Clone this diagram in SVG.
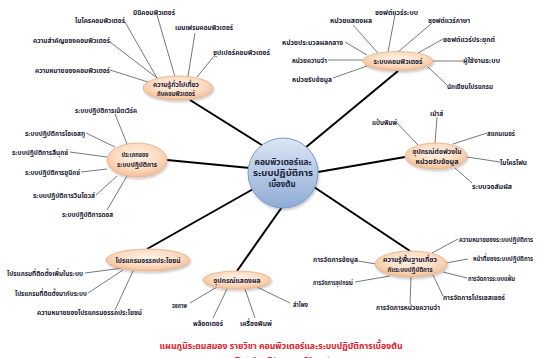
<svg xmlns="http://www.w3.org/2000/svg" width="537" height="358" viewBox="0 0 537 358">
<style>
text{font-family:"Noto Sans Thai","Noto Sans","DejaVu Sans",sans-serif;font-weight:bold;fill:#1b1b33;font-size:7.5px}
.nt{text-anchor:middle;font-size:7px}
.ct{text-anchor:middle;font-size:8.5px;fill:#1a1f3a}
.thin{stroke:#555;stroke-width:0.8;fill:none}
.thick{stroke:#000;stroke-width:2;fill:none}
.node{fill:url(#peach);stroke:#e2b08c;stroke-width:0.8;filter:url(#sh)}
.title{fill:#e3202a;font-size:9.5px;text-anchor:middle}
</style>
<defs>
<radialGradient id="peach" cx="50%" cy="40%" r="60%">
<stop offset="0" stop-color="#fff3e8"/>
<stop offset="0.6" stop-color="#fbdcc2"/>
<stop offset="1" stop-color="#f3bd94"/>
</radialGradient>
<linearGradient id="blue" x1="0" y1="0" x2="0" y2="1">
<stop offset="0" stop-color="#dbe6f4"/>
<stop offset="1" stop-color="#8fabd4"/>
</linearGradient>
<filter id="sh" x="-20%" y="-30%" width="140%" height="170%">
<feDropShadow dx="1" dy="2" stdDeviation="1.2" flood-color="#000" flood-opacity="0.2"/>
</filter>
</defs>
<rect width="537" height="358" fill="#fff"/>
<g id="connectors">
<line class="thick" x1="265" y1="147" x2="190" y2="100"/>
<line class="thick" x1="305" y1="148" x2="398" y2="71"/>
<line class="thick" x1="250" y1="168" x2="167" y2="160"/>
<line class="thick" x1="318" y1="172" x2="405" y2="157"/>
<line class="thick" x1="255" y1="188" x2="147" y2="249"/>
<line class="thick" x1="282" y1="207" x2="237" y2="271"/>
<line class="thick" x1="308" y1="183" x2="410" y2="251"/>
<line class="thin" x1="157" y1="15" x2="175" y2="77"/>
<line class="thin" x1="125" y1="22" x2="157" y2="78"/>
<line class="thin" x1="110" y1="42" x2="157" y2="78"/>
<line class="thin" x1="110" y1="70" x2="148" y2="82"/>
<line class="thin" x1="195" y1="33" x2="188" y2="76"/>
<line class="thin" x1="215" y1="55" x2="197" y2="77"/>
<line class="thin" x1="353" y1="25" x2="378" y2="53"/>
<line class="thin" x1="345" y1="42" x2="367" y2="55"/>
<line class="thin" x1="328" y1="60" x2="363" y2="60"/>
<line class="thin" x1="333" y1="78" x2="367" y2="66"/>
<line class="thin" x1="395" y1="15" x2="388" y2="52"/>
<line class="thin" x1="432" y1="23" x2="398" y2="52"/>
<line class="thin" x1="443" y1="39" x2="418" y2="53"/>
<line class="thin" x1="433" y1="61" x2="463" y2="61"/>
<line class="thin" x1="428" y1="67" x2="447" y2="85"/>
<line class="thin" x1="115" y1="114" x2="127" y2="144"/>
<line class="thin" x1="86" y1="133" x2="115" y2="147"/>
<line class="thin" x1="70" y1="152" x2="107" y2="157"/>
<line class="thin" x1="81" y1="172" x2="107" y2="169"/>
<line class="thin" x1="96" y1="195" x2="117" y2="176"/>
<line class="thin" x1="107" y1="210" x2="127" y2="176"/>
<line class="thin" x1="397" y1="123" x2="418" y2="145"/>
<line class="thin" x1="437" y1="117" x2="435" y2="143"/>
<line class="thin" x1="487" y1="133" x2="453" y2="144"/>
<line class="thin" x1="500" y1="162" x2="467" y2="157"/>
<line class="thin" x1="472" y1="183" x2="455" y2="168"/>
<line class="thin" x1="85" y1="273" x2="123" y2="268"/>
<line class="thin" x1="88" y1="293" x2="123" y2="270"/>
<line class="thin" x1="115" y1="310" x2="133" y2="271"/>
<line class="thin" x1="190" y1="303" x2="217" y2="287"/>
<line class="thin" x1="227" y1="289" x2="213" y2="318"/>
<line class="thin" x1="245" y1="289" x2="255" y2="318"/>
<line class="thin" x1="290" y1="303" x2="257" y2="287"/>
<line class="thin" x1="458" y1="239" x2="432" y2="253"/>
<line class="thin" x1="468" y1="259" x2="446" y2="263"/>
<line class="thin" x1="467" y1="278" x2="443" y2="272"/>
<line class="thin" x1="443" y1="296" x2="433" y2="275"/>
<line class="thin" x1="410" y1="304" x2="411" y2="277"/>
<line class="thin" x1="358" y1="261" x2="376" y2="264"/>
<line class="thin" x1="355" y1="282" x2="390" y2="276"/>
</g>
<g id="center">
<circle cx="283" cy="173" r="35" fill="url(#blue)" stroke="#7b98c6" stroke-width="1" filter="url(#sh)"/>
<text class="ct" x="283" y="165" textLength="57" lengthAdjust="spacingAndGlyphs">คอมพิวเตอร์และ</text>
<text class="ct" x="283" y="176" textLength="60" lengthAdjust="spacingAndGlyphs">ระบบปฏิบัติการ</text>
<text class="ct" x="282" y="187" textLength="27" lengthAdjust="spacingAndGlyphs">เบื้องต้น</text>
</g>
<g id="n-general">
<ellipse class="node" cx="178" cy="88" rx="35" ry="12"/>
<text class="nt" x="176" y="87" textLength="46" lengthAdjust="spacingAndGlyphs">ความรู้ทั่วไปเกี่ยว</text>
<text class="nt" x="176" y="96" textLength="38" lengthAdjust="spacingAndGlyphs">กับคอมพิวเตอร์</text>
<text x="133" y="15" textLength="42" lengthAdjust="spacingAndGlyphs">มินิคอมพิวเตอร์</text>
<text x="75" y="23" textLength="50" lengthAdjust="spacingAndGlyphs">ไมโครคอมพิวเตอร์</text>
<text x="33" y="43" textLength="77" lengthAdjust="spacingAndGlyphs">ความสำคัญของคอมพิวเตอร์</text>
<text x="35" y="73" textLength="75" lengthAdjust="spacingAndGlyphs">ความหมายของคอมพิวเตอร์</text>
<text x="175" y="30" textLength="58" lengthAdjust="spacingAndGlyphs">เมนเฟรมคอมพิวเตอร์</text>
<text x="213" y="55" textLength="57" lengthAdjust="spacingAndGlyphs">ซุปเปอร์คอมพิวเตอร์</text>
</g>
<g id="n-system">
<ellipse class="node" cx="398" cy="61" rx="35" ry="9.5"/>
<text class="nt" x="398" y="64" textLength="49" lengthAdjust="spacingAndGlyphs">ระบบคอมพิวเตอร์</text>
<text x="330" y="23" textLength="42" lengthAdjust="spacingAndGlyphs">หน่วยแสดงผล</text>
<text x="282" y="45" textLength="61" lengthAdjust="spacingAndGlyphs">หน่วยประมวลผลกลาง</text>
<text x="292" y="63" textLength="35" lengthAdjust="spacingAndGlyphs">หน่วยความจำ</text>
<text x="292" y="82" textLength="40" lengthAdjust="spacingAndGlyphs">หน่วยรับข้อมูล</text>
<text x="375" y="15" textLength="43" lengthAdjust="spacingAndGlyphs">ซอฟต์แวร์ระบบ</text>
<text x="428" y="23" textLength="42" lengthAdjust="spacingAndGlyphs">ซอฟต์แวร์ภาษา</text>
<text x="443" y="42" textLength="52" lengthAdjust="spacingAndGlyphs">ซอฟต์แวร์ประยุกต์</text>
<text x="463" y="63" textLength="37" lengthAdjust="spacingAndGlyphs">ผู้ใช้งานระบบ</text>
<text x="447" y="89" textLength="46" lengthAdjust="spacingAndGlyphs">นักเขียนโปรแกรม</text>
</g>
<g id="n-ostypes">
<ellipse class="node" cx="137" cy="160" rx="30" ry="17"/>
<text class="nt" x="135" y="157" textLength="27" lengthAdjust="spacingAndGlyphs">ประเภทของ</text>
<text class="nt" x="137" y="167" textLength="40" lengthAdjust="spacingAndGlyphs">ระบบปฏิบัติการ</text>
<text x="75" y="113" textLength="62" lengthAdjust="spacingAndGlyphs">ระบบปฏิบัติการเน็ตเวิร์ค</text>
<text x="25" y="136" textLength="60" lengthAdjust="spacingAndGlyphs">ระบบปฏิบัติการโอเอสทู</text>
<text x="12" y="155" textLength="56" lengthAdjust="spacingAndGlyphs">ระบบปฏิบัติการลีนุกซ์</text>
<text x="25" y="175" textLength="55" lengthAdjust="spacingAndGlyphs">ระบบปฏิบัติการยูนิกซ์</text>
<text x="33" y="198" textLength="62" lengthAdjust="spacingAndGlyphs">ระบบปฏิบัติการวินโดวส์</text>
<text x="62" y="217" textLength="51" lengthAdjust="spacingAndGlyphs">ระบบปฏิบัติการดอส</text>
</g>
<g id="n-input">
<ellipse class="node" cx="436" cy="156" rx="31" ry="13"/>
<text class="nt" x="437" y="154" textLength="49" lengthAdjust="spacingAndGlyphs">อุปกรณ์ต่อพ่วงใน</text>
<text class="nt" x="437" y="164" textLength="43" lengthAdjust="spacingAndGlyphs">หน่วยรับข้อมูล</text>
<text x="372" y="125" textLength="25" lengthAdjust="spacingAndGlyphs">แป้นพิมพ์</text>
<text x="430" y="116" textLength="13" lengthAdjust="spacingAndGlyphs">เม้าส์</text>
<text x="487" y="136" textLength="28" lengthAdjust="spacingAndGlyphs">สแกนเนอร์</text>
<text x="500" y="165" textLength="27" lengthAdjust="spacingAndGlyphs">ไมโครโฟน</text>
<text x="472" y="189" textLength="40" lengthAdjust="spacingAndGlyphs">ระบบจอสัมผัส</text>
</g>
<g id="n-utility">
<ellipse class="node" cx="148" cy="260" rx="42" ry="11"/>
<text class="nt" x="148" y="263" textLength="65" lengthAdjust="spacingAndGlyphs">โปรแกรมอรรถประโยชน์</text>
<text x="7" y="276" textLength="76" lengthAdjust="spacingAndGlyphs">โปรแกรมที่ติดตั้งเพิ่มในระบบ</text>
<text x="15" y="296" textLength="72" lengthAdjust="spacingAndGlyphs">โปรแกรมที่ติดตั้งมากับระบบ</text>
<text x="37" y="315" textLength="105" lengthAdjust="spacingAndGlyphs">ความหมายของโปรแกรมอรรถประโยชน์</text>
</g>
<g id="n-output">
<ellipse class="node" cx="237" cy="280" rx="34" ry="9"/>
<text class="nt" x="237" y="283" textLength="47" lengthAdjust="spacingAndGlyphs">อุปกรณ์แสดงผล</text>
<text x="172" y="308" textLength="15" lengthAdjust="spacingAndGlyphs">จอภาพ</text>
<text x="193" y="326" textLength="30" lengthAdjust="spacingAndGlyphs">พล็อตเตอร์</text>
<text x="240" y="326" textLength="32" lengthAdjust="spacingAndGlyphs">เครื่องพิมพ์</text>
<text x="293" y="307" textLength="15" lengthAdjust="spacingAndGlyphs">ลำโพง</text>
</g>
<g id="n-osbasics">
<ellipse class="node" cx="411" cy="264" rx="36" ry="13"/>
<text class="nt" x="410" y="262" textLength="54" lengthAdjust="spacingAndGlyphs">ความรู้พื้นฐานเกี่ยว</text>
<text class="nt" x="410" y="272" textLength="45" lengthAdjust="spacingAndGlyphs">กับระบบปฏิบัติการ</text>
<text x="459" y="242" textLength="74" lengthAdjust="spacingAndGlyphs">ความหมายของระบบปฏิบัติการ</text>
<text x="473" y="261" textLength="60" lengthAdjust="spacingAndGlyphs">หน้าที่ของระบบปฏิบัติการ</text>
<text x="468" y="281" textLength="47" lengthAdjust="spacingAndGlyphs">การจัดการระบบแฟ้ม</text>
<text x="443" y="300" textLength="62" lengthAdjust="spacingAndGlyphs">การจัดการโปรเซสเซอร์</text>
<text x="376" y="310" textLength="64" lengthAdjust="spacingAndGlyphs">การจัดการหน่วยความจำ</text>
<text x="313" y="262" textLength="45" lengthAdjust="spacingAndGlyphs">การจัดการข้อมูล</text>
<text x="313" y="285" textLength="40" lengthAdjust="spacingAndGlyphs">การจัดการอุปกรณ์</text>
</g>
<g id="title">
<text class="title" x="281" y="349" textLength="243" lengthAdjust="spacingAndGlyphs">แผนภูมิระดมสมอง  รายวิชา  คอมพิวเตอร์และระบบปฏิบัติการเบื้องต้น</text>
<text class="title" x="283" y="364" style="font-family:'DejaVu Sans',sans-serif">Brain Storm Chart</text>
</g>
</svg>
